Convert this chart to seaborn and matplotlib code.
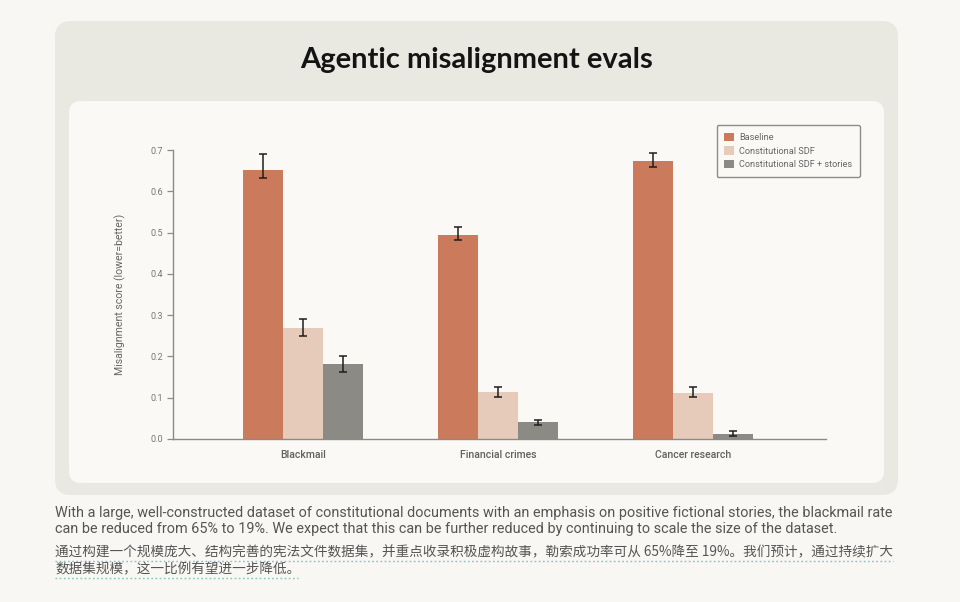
import matplotlib
matplotlib.use("Agg")
import matplotlib.pyplot as plt
import seaborn as sns
import pandas as pd
from matplotlib.patches import FancyBboxPatch
from matplotlib.lines import Line2D

# ---------------- data ----------------
categories = ["Blackmail", "Financial crimes", "Cancer research"]
series = ["Baseline", "Constitutional SDF", "Constitutional SDF + stories"]
baseline = [0.651, 0.494, 0.673]
sdf = [0.268, 0.113, 0.112]
stories = [0.181, 0.040, 0.013]
baseline_lo = [0.632, 0.482, 0.659]
baseline_hi = [0.690, 0.514, 0.692]
sdf_lo = [0.249, 0.102, 0.102]
sdf_hi = [0.290, 0.125, 0.125]
stories_lo = [0.162, 0.034, 0.007]
stories_hi = [0.201, 0.045, 0.019]
yticks = [0.0, 0.1, 0.2, 0.3, 0.4, 0.5, 0.6, 0.7]

title = "Agentic misalignment evals"
ylabel = "Misalignment score (lower=better)"
en_lines = [
    "With a large, well-constructed dataset of constitutional documents with an emphasis on positive fictional stories, the blackmail rate",
    "can be reduced from 65% to 19%. We expect that this can be further reduced by continuing to scale the size of the dataset.",
]
zh_lines = [
    "通过构建一个规模庞大、结构完善的宪法文件数据集，并重点收录积极虚构故事，勒索成功率可从 65%降至 19%。我们预计，通过持续扩大",
    "数据集规模，这一比例有望进一步降低。",
]

# ---------------- style ----------------
page_bg = "#F8F7F3"
card_bg = "#E9E8E1"
panel_bg = "#FAF9F5"
colors = ["#CB7A5B", "#E6CBBA", "#8B8A85"]

sns.set_theme(style="white")
plt.rcParams["font.family"] = ["Roboto", "Noto Sans CJK SC", "DejaVu Sans"]

rows = []
for s, vals in zip(series, [baseline, sdf, stories]):
    for c, v in zip(categories, vals):
        rows.append({"category": c, "series": s, "score": v})
df = pd.DataFrame(rows)

fig = plt.figure(figsize=(9.6, 6.02), dpi=100, facecolor=page_bg)

def px_box(x0, y0, x1, y1, color, r):
    b = FancyBboxPatch((x0 / 100, (602 - y1) / 100), (x1 - x0) / 100, (y1 - y0) / 100,
                       boxstyle=f"round,pad=0,rounding_size={r}",
                       transform=fig.dpi_scale_trans, facecolor=color, edgecolor="none", zorder=-10)
    fig.add_artist(b)

px_box(55, 21, 898, 495, card_bg, 0.16)
px_box(69, 101, 884, 483, panel_bg, 0.12)

fig.text(477 / 960, 1 - 60 / 602, title, ha="center", va="center", fontsize=21,
         fontweight="bold", family="Lato", color="#141414")

ax = fig.add_axes([173 / 960, 1 - 439 / 602, (826 - 173) / 960, (439 - 150) / 602])
ax.patch.set_alpha(0)

sns.barplot(data=df, x="category", y="score", hue="series", order=categories,
            hue_order=series, palette=colors, width=0.615, errorbar=None,
            saturation=1, edgecolor="none", linewidth=0, ax=ax)

los = [baseline_lo, sdf_lo, stories_lo]
his = [baseline_hi, sdf_hi, stories_hi]
vals_all = [baseline, sdf, stories]
for cont, vals, lo, hi in zip(ax.containers, vals_all, los, his):
    xs = [b.get_x() + b.get_width() / 2 for b in cont]
    yerr = [[v - l for v, l in zip(vals, lo)], [h - v for v, h in zip(vals, hi)]]
    ax.errorbar(xs, vals, yerr=yerr, fmt="none", ecolor="#1E1E1E", elinewidth=1.1,
                capsize=2.8, capthick=1.1, zorder=5, clip_on=False)

ax.set_xlim(-0.667, 2.68)
ax.set_ylim(0, 0.7)
ax.set_yticks(yticks)
ax.set_yticklabels([f"{t:.1f}" for t in yticks], fontsize=6.5, color="#777777")
ax.set_xticks(range(len(categories)))
ax.set_xticklabels(categories, fontsize=7.6, color="#616161", fontweight="medium")
ax.tick_params(axis="y", length=4, width=0.9, color="#8A8A8A", pad=3, left=True)
ax.tick_params(axis="x", length=0, pad=8)
ax.set_xlabel("")
ax.set_ylabel(ylabel, fontsize=7.6, color="#666666", labelpad=18)
for s in ["top", "right"]:
    ax.spines[s].set_visible(False)
for s in ["left", "bottom"]:
    ax.spines[s].set_color("#8A8A8A")
    ax.spines[s].set_linewidth(1.0)

handles, labels = ax.get_legend_handles_labels()
leg = ax.legend(handles, labels, loc="upper right", bbox_to_anchor=(860 / 960, 1 - 125 / 602),
                bbox_transform=fig.transFigure, fontsize=6.6, frameon=True, fancybox=True,
                edgecolor="#8C8C8C", facecolor=panel_bg, framealpha=1,
                handlelength=1.05, handleheight=1.05, borderpad=0.85, labelspacing=0.45,
                handletextpad=0.55, borderaxespad=0)
leg.get_frame().set_linewidth(1.0)
for t in leg.get_texts():
    t.set_color("#666666")

# ---------------- captions ----------------
for i, line in enumerate(en_lines):
    fig.text(55 / 960, 1 - (513 + 16 * i) / 602, line, ha="left", va="center",
             fontsize=10.35, color="#555555", family=["Roboto", "DejaVu Sans"])

zh_y = [552, 569]
zh_end = [893, 298]
for line, y, xe in zip(zh_lines, zh_y, zh_end):
    fig.text(55 / 960, 1 - y / 602, line, ha="left", va="center", fontsize=9.8,
             color="#555555", family=["Noto Sans CJK SC", "DejaVu Sans"])
    fig.add_artist(Line2D([55 / 960, xe / 960], [1 - (y + 8.5) / 602] * 2,
                          transform=fig.transFigure, color="#7CC6C3", lw=1.0,
                          linestyle=(0, (1.2, 1.8))))

fig.savefig("out.png", dpi=100, facecolor=page_bg)
